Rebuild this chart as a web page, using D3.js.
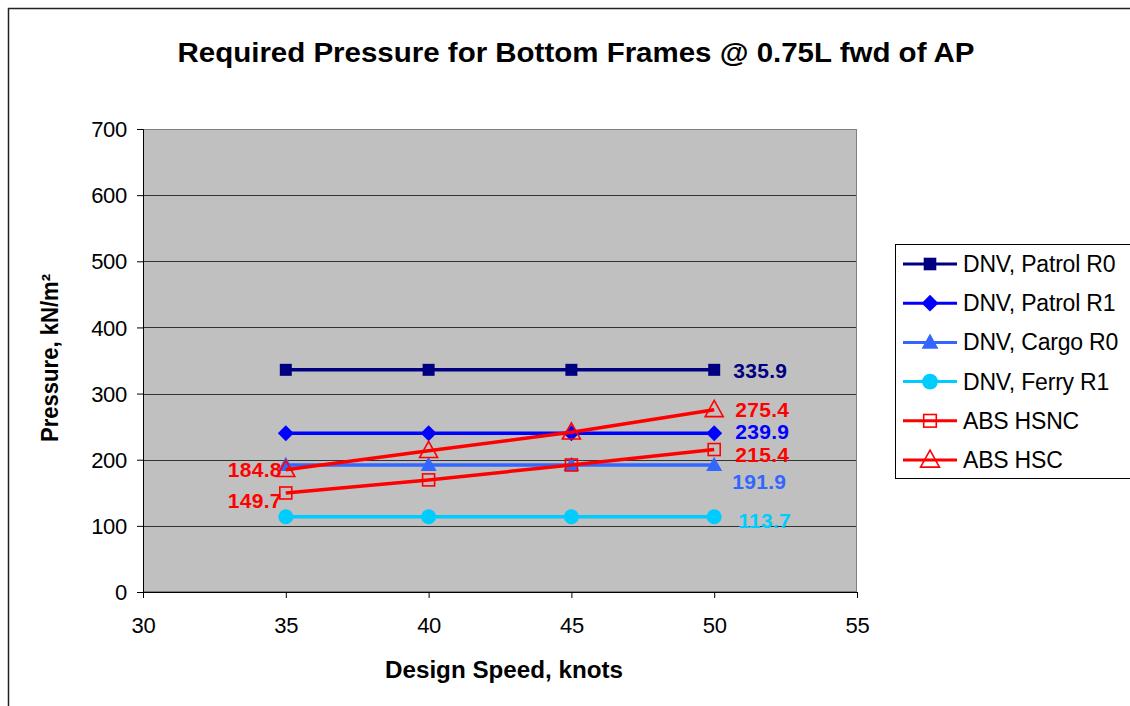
<!DOCTYPE html>
<html><head><meta charset="utf-8">
<script src="https://cdn.jsdelivr.net/npm/d3@7/dist/d3.min.js"></script>
<style>
html,body{margin:0;padding:0;background:#fff;overflow:hidden}
svg{display:block;font-family:"Liberation Sans",Arial,sans-serif}
</style></head><body>
<svg id="c" width="1130" height="706"></svg>
<script>
const speeds = [35, 40, 45, 50];
const patrolR0 = [335.9, 335.9, 335.9, 335.9];
const patrolR1 = [239.9, 239.9, 239.9, 239.9];
const cargoR0 = [191.9, 191.9, 191.9, 191.9];
const ferryR1 = [113.7, 113.7, 113.7, 113.7];
const absHSNC = [149.7, 169.5, 192.0, 215.4];
const absHSC = [184.8, 213.5, 241.5, 275.4];
const xTicks = [30, 35, 40, 45, 50, 55];
const yTicks = [0, 100, 200, 300, 400, 500, 600, 700];
const seriesNames = ["DNV, Patrol R0","DNV, Patrol R1","DNV, Cargo R0","DNV, Ferry R1","ABS HSNC","ABS HSC"];

const series = [
  {name:seriesNames[0], vals:patrolR0, color:"#000080", marker:"square", fill:true},
  {name:seriesNames[1], vals:patrolR1, color:"#0000FF", marker:"diamond", fill:true},
  {name:seriesNames[2], vals:cargoR0, color:"#3366FF", marker:"triangle", fill:true},
  {name:seriesNames[3], vals:ferryR1, color:"#00CCFF", marker:"circle", fill:true},
  {name:seriesNames[4], vals:absHSNC, color:"#FF0000", marker:"square", fill:false},
  {name:seriesNames[5], vals:absHSC, color:"#FF0000", marker:"triangle", fill:false}
];

const svg = d3.select("#c");
svg.append("path").attr("d","M8.5,706 L8.5,8.5 L1130,8.5").attr("fill","none").attr("stroke","#222").attr("stroke-width",1.5);

const L=143, R=857, T=129, B=592;
const x = d3.scaleLinear().domain([30,55]).range([L,R]);
const y = d3.scaleLinear().domain([0,700]).range([B,T]);

svg.append("rect").attr("x",L).attr("y",T).attr("width",R-L).attr("height",B-T).attr("fill","#C0C0C0");
svg.append("g").selectAll("line").data(yTicks).join("line")
  .attr("x1",L).attr("x2",R).attr("y1",d=>Math.round(y(d))+0.5).attr("y2",d=>Math.round(y(d))+0.5)
  .attr("stroke","#333").attr("stroke-width",1);
svg.append("rect").attr("x",L+0.5).attr("y",T+0.5).attr("width",R-L-1).attr("height",B-T-1).attr("fill","none").attr("stroke","#808080");

const yAxis = d3.axisLeft(y).tickValues(yTicks).tickSize(6).tickPadding(10);
const gy = svg.append("g").attr("transform",`translate(${L},0)`).call(yAxis);
const xAxis = d3.axisBottom(x).tickValues(xTicks).tickSize(6).tickPadding(19);
const gx = svg.append("g").attr("transform",`translate(0,${B})`).call(xAxis);
[gy,gx].forEach(g=>{
  g.select(".domain").attr("stroke","#000").attr("stroke-width",1);
  g.selectAll(".tick line").attr("stroke","#000");
  g.selectAll("text").attr("font-size",22).attr("fill","#000").attr("font-family","Liberation Sans, Arial, sans-serif").attr("letter-spacing","-0.3");
});
gy.selectAll("text").attr("dy","0.35em");

svg.append("text").attr("x",576).attr("y",62).attr("text-anchor","middle")
  .attr("font-size",27).attr("font-weight","bold").attr("textLength",797).attr("lengthAdjust","spacingAndGlyphs")
  .text("Required Pressure for Bottom Frames @ 0.75L fwd of AP");
svg.append("text").attr("x",504).attr("y",678).attr("text-anchor","middle")
  .attr("font-size",23).attr("font-weight","bold").attr("textLength",238).attr("lengthAdjust","spacingAndGlyphs").text("Design Speed, knots");
svg.append("text").attr("transform","translate(58,358) rotate(-90)").attr("text-anchor","middle")
  .attr("font-size",23).attr("font-weight","bold").attr("textLength",168).attr("lengthAdjust","spacingAndGlyphs").text("Pressure, kN/m²");

function drawMarker(g, type, cx, cy, color, fill, scale){
  scale = scale||1;
  let s;
  if(type==="square"){ s = 12*scale;
    g.append("rect").attr("x",cx-s/2).attr("y",cy-s/2).attr("width",s).attr("height",s)
      .attr("fill",fill?color:"none").attr("stroke",color).attr("stroke-width",fill?0:1.6);
  } else if(type==="diamond"){ s=8*scale;
    g.append("path").attr("d",`M${cx},${cy-s}L${cx+s},${cy}L${cx},${cy+s}L${cx-s},${cy}Z`).attr("fill",color);
  } else if(type==="triangle"){ s=(fill?8:9)*scale;
    g.append("path").attr("d",`M${cx},${cy-s*1.05}L${cx+s},${cy+s*0.75}L${cx-s},${cy+s*0.75}Z`)
      .attr("fill",fill?color:"none").attr("stroke",color).attr("stroke-width",fill?0:1.6);
  } else if(type==="circle"){
    g.append("circle").attr("cx",cx).attr("cy",cy).attr("r",7.5*scale).attr("fill",color);
  }
}

const line = d3.line().x(d=>x(d[0])).y(d=>y(d[1]));
const plotG = svg.append("g");
series.forEach(s=>{
  const pts = speeds.map((v,i)=>[v,s.vals[i]]);
  plotG.append("path").attr("d",line(pts)).attr("fill","none").attr("stroke",s.color).attr("stroke-width",3.5);
  const mg = plotG.append("g");
  pts.forEach(p=>drawMarker(mg,s.marker,x(p[0]),y(p[1]),s.color,s.fill));
});

const labels = [
  {v:patrolR0[3], sx:speeds[3], dx:19, dy:8, color:"#000080", anchor:"start"},
  {v:absHSC[3], sx:speeds[3], dx:21, dy:7, color:"#FF0000", anchor:"start"},
  {v:patrolR1[3], sx:speeds[3], dx:21, dy:6, color:"#0000FF", anchor:"start"},
  {v:absHSNC[3], sx:speeds[3], dx:21, dy:12, color:"#FF0000", anchor:"start"},
  {v:cargoR0[3], sx:speeds[3], dx:18, dy:24, color:"#3366FF", anchor:"start"},
  {v:ferryR1[3], sx:speeds[3], dx:24, dy:11, color:"#00CCFF", anchor:"start"},
  {v:absHSC[0], sx:speeds[0], dx:-4, dy:7, color:"#FF0000", anchor:"end"},
  {v:absHSNC[0], sx:speeds[0], dx:-4, dy:15, color:"#FF0000", anchor:"end"}
];
svg.append("g").selectAll("text").data(labels).join("text")
  .attr("x",d=>x(d.sx)+d.dx).attr("y",d=>y(d.v)+d.dy).attr("text-anchor",d=>d.anchor)
  .attr("font-size",21).attr("font-weight","bold").attr("fill",d=>d.color).attr("letter-spacing","0.3")
  .text(d=>d.v.toFixed(1));

const lg = svg.append("g");
lg.append("rect").attr("x",895.5).attr("y",244.5).attr("width",260).attr("height",234).attr("fill","#fff").attr("stroke","#000").attr("stroke-width",1);
series.forEach((s,i)=>{
  const cy = 264 + i*39.2;
  lg.append("line").attr("x1",903).attr("x2",957).attr("y1",cy).attr("y2",cy).attr("stroke",s.color).attr("stroke-width",3);
  drawMarker(lg,s.marker,930,cy,s.color,s.fill,1.05);
  lg.append("text").attr("x",963).attr("y",cy+8).attr("font-size",23).attr("letter-spacing","-0.2").text(s.name);
});
</script>
</body></html>
